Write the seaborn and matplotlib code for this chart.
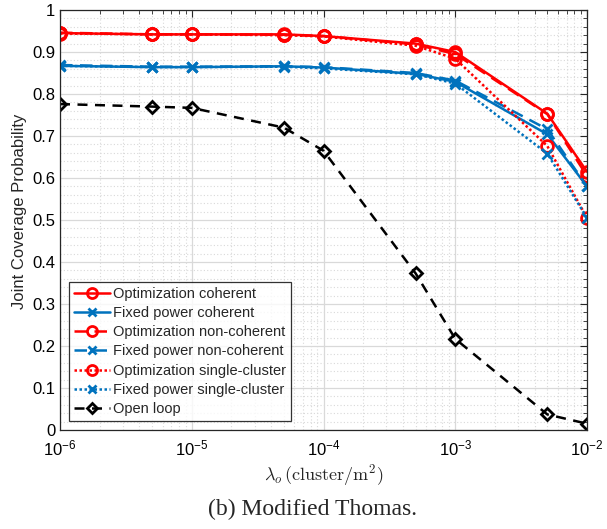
import numpy as np
import pandas as pd
import seaborn as sns
import matplotlib
matplotlib.use("Agg")
import matplotlib.pyplot as plt
from matplotlib.ticker import MultipleLocator, FuncFormatter, LogLocator, NullFormatter

# Cluster density values (cluster/m^2)
lam = [1e-6, 5e-6, 1e-5, 5e-5, 1e-4, 5e-4, 1e-3, 5e-3, 1e-2]

opt_coh = [0.945, 0.942, 0.942, 0.942, 0.938, 0.920, 0.900, 0.753, 0.615]
fix_coh = [0.867, 0.864, 0.864, 0.866, 0.863, 0.848, 0.829, 0.704, 0.580]
opt_noncoh = [0.946, 0.942, 0.942, 0.941, 0.938, 0.918, 0.895, 0.752, 0.605]
fix_noncoh = [0.869, 0.865, 0.865, 0.866, 0.864, 0.850, 0.832, 0.716, 0.580]
opt_single = [0.944, 0.942, 0.942, 0.940, 0.937, 0.915, 0.884, 0.676, 0.505]
fix_single = [0.867, 0.864, 0.864, 0.865, 0.861, 0.847, 0.825, 0.658, 0.505]
open_loop = [0.776, 0.770, 0.767, 0.720, 0.665, 0.373, 0.217, 0.037, 0.015]

labels = ["Optimization coherent", "Fixed power coherent",
          "Optimization non-coherent", "Fixed power non-coherent",
          "Optimization single-cluster", "Fixed power single-cluster",
          "Open loop"]
series = [opt_coh, fix_coh, opt_noncoh, fix_noncoh, opt_single, fix_single, open_loop]

RED = (1.0, 0.0, 0.0)
BLUE = (0.0, 0.447, 0.741)
styles = [
    dict(color=RED, linestyle="-", marker="o"),
    dict(color=BLUE, linestyle="-", marker="x"),
    dict(color=RED, linestyle=(0, (5, 3)), marker="o"),
    dict(color=BLUE, linestyle=(0, (5, 3)), marker="x"),
    dict(color=RED, linestyle=(0, (1, 1)), marker="o"),
    dict(color=BLUE, linestyle=(0, (1, 1)), marker="x"),
    dict(color="black", linestyle=(0, (4, 3)), marker="D"),
]
marker_sizes = {"o": 8.5, "x": 6.5, "D": 6.0}

sns.set_style("white")
plt.rcParams["font.family"] = ["Liberation Sans", "DejaVu Sans"]
plt.rcParams["mathtext.fontset"] = "cm"

fig = plt.figure(figsize=(6.07, 5.29), dpi=100)
ax = fig.add_axes([60 / 607, 1 - 430 / 529, 527 / 607, 420 / 529])

for name, vals, st in zip(labels, series, styles):
    df = pd.DataFrame({"lam": lam, "p": vals})
    sns.lineplot(data=df, x="lam", y="p", ax=ax, label=name,
                 color=st["color"], linestyle=st["linestyle"], marker=st["marker"],
                 markersize=marker_sizes[st["marker"]],
                 markerfacecolor="none", markeredgecolor=st["color"],
                 markeredgewidth=2, linewidth=1.8, sort=False)

ax.set_xscale("log")
ax.set_xlim(1e-6, 1e-2)
ax.set_ylim(0, 1)

ax.xaxis.set_major_locator(LogLocator(base=10, numticks=10))
ax.xaxis.set_minor_locator(LogLocator(base=10, subs=np.arange(2, 10), numticks=50))
ax.xaxis.set_minor_formatter(NullFormatter())
ax.xaxis.set_major_formatter(FuncFormatter(
    lambda v, p: r"$\mathregular{10^{%d}}$" % int(round(np.log10(v)))))
ax.yaxis.set_major_locator(MultipleLocator(0.1))
ax.yaxis.set_minor_locator(MultipleLocator(0.02))
ax.yaxis.set_major_formatter(FuncFormatter(lambda v, p: f"{v:g}"))

ax.grid(True, which="major", color="#d9d9d9", linewidth=0.9, linestyle="-")
ax.grid(True, which="minor", color="#d9d9d9", linewidth=0.8, linestyle=(0, (1, 2)))
ax.set_axisbelow(True)

ax.tick_params(which="both", direction="in", top=True, right=True, labelsize=12,
               colors="#262626", labelcolor="black")
ax.tick_params(which="major", length=5, width=0.8)
ax.tick_params(which="minor", length=3, width=0.6)
ax.tick_params(axis="x", pad=6)
for s in ax.spines.values():
    s.set_color("#262626")
    s.set_linewidth(0.9)
    s.set_visible(True)

ax.set_ylabel("Joint Coverage Probability", fontsize=12)
ax.yaxis.set_label_coords(-0.062, 0.52)
ax.set_xlabel(r"$\lambda_o\,(\mathrm{cluster/m^2})$", fontsize=13, labelpad=3)

leg = ax.legend(loc="lower left", bbox_to_anchor=(0.0, 0.0), fontsize=10.5,
                frameon=True, fancybox=False, edgecolor="black",
                handlelength=2.5, handletextpad=0.2, labelspacing=0.36,
                borderpad=0.35, borderaxespad=0.6, markerscale=0.85)
leg.get_frame().set_linewidth(0.9)

fig.text(313 / 607, 1 - 509 / 529, "(b) Modified Thomas.", ha="center", va="center",
         fontsize=17, family=["Liberation Serif", "DejaVu Serif"])

fig.savefig("out.png", dpi=100, facecolor="white")
